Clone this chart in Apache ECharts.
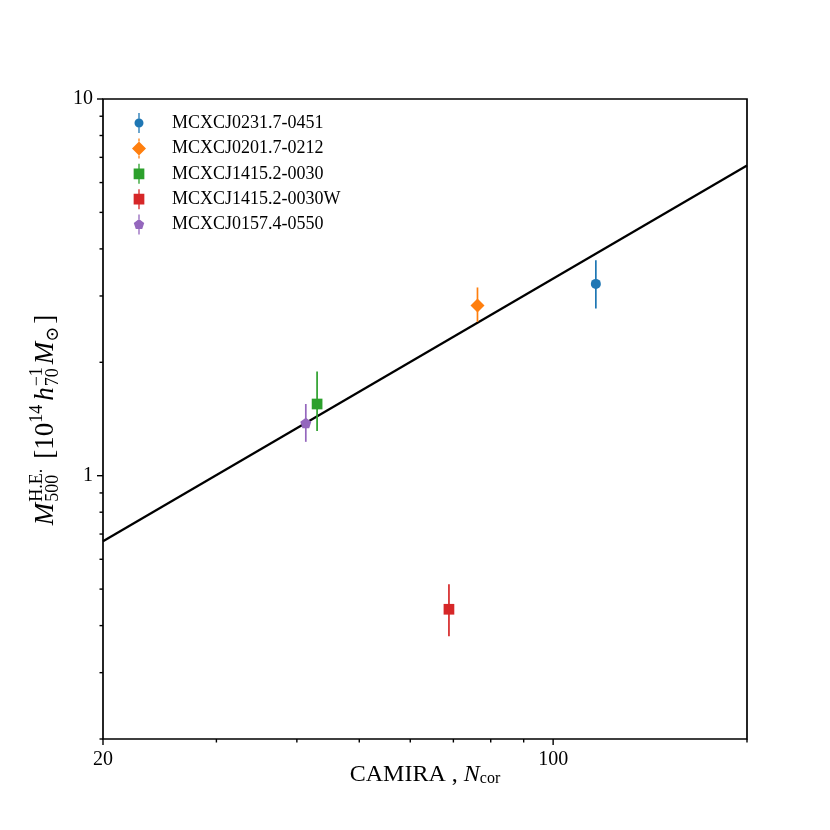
<!DOCTYPE html>
<html>
<head>
<meta charset="utf-8">
<script src="https://cdn.jsdelivr.net/npm/echarts@6/dist/echarts.min.js"></script>
<style>
  html, body { margin: 0; padding: 0; background: #fff; }
  #chart { width: 830px; height: 830px; }
</style>
</head>
<body>
<div id="chart"></div>
<script>
(function () {

    // clusters
    var sources = ['MCXCJ0231.7-0451', 'MCXCJ0201.7-0212', 'MCXCJ1415.2-0030', 'MCXCJ1415.2-0030W', 'MCXCJ0157.4-0550'];
    var nCor = [116.5, 76.3, 43.0, 68.9, 41.3];
    var mass = [3.23, 2.83, 1.55, 0.442, 1.38];
    var massLo = [2.78, 2.56, 1.315, 0.375, 1.23];
    var massHi = [3.73, 3.16, 1.89, 0.515, 1.55];

    // best-fit relation
    var fitN = [20, 200];
    var fitM = [0.67, 6.66];

    // ticks
    var xMajorTicks = [20, 100];
    var xMinorTicks = [30, 40, 50, 60, 70, 80, 90, 200];
    var yMajorTicks = [1, 10];
    var yMinorTicks = [0.2, 0.3, 0.4, 0.5, 0.6, 0.7, 0.8, 0.9, 2, 3, 4, 5, 6, 7, 8, 9];

    var X_MIN = 20, X_MAX = 200, Y_MIN = 0.2, Y_MAX = 10;

    var FONT = '"Liberation Serif", "DejaVu Serif", serif';
    var colors = ['#1f77b4', '#ff7f0e', '#2ca02c', '#d62728', '#9467bd'];
    var pentagon = 'path://M10,0L19.51,6.91L15.88,18.09L4.12,18.09L0.49,6.91Z';
    var symbols = ['circle', 'diamond', 'rect', 'rect', pentagon];
    var symbolSizes = [10, 14, 10.7, 10.7, 11];
    // legend icons: marker with its error bar through it
    var legendIcons = [
        'path://M4.35,0h1.3v5.5h-1.3zM4.35,14.5h1.3v5.5h-1.3zM0.5,10a4.5,4.5 0 1,0 9,0a4.5,4.5 0 1,0 -9,0z',
        'path://M6.35,0h1.3v3h-1.3zM6.35,17h1.3v3h-1.3zM0,10L7,3L14,10L7,17Z',
        'path://M4.7,0h1.3v4.65h-1.3zM4.7,15.35h1.3v4.65h-1.3zM0,4.65h10.7v10.7h-10.7z',
        'path://M4.7,0h1.3v4.65h-1.3zM4.7,15.35h1.3v4.65h-1.3zM0,4.65h10.7v10.7h-10.7z',
        'path://M4.65,0h1.3v4.5h-1.3zM4.65,14.45h1.3v5.55h-1.3zM5.3,4.5L10.53,8.3L8.53,14.45L2.07,14.45L0.07,8.3Z'
    ];

    var series = [];

    series.push({
        type: 'line',
        name: 'fit',
        data: fitN.map(function (n, i) { return [n, fitM[i]]; }),
        showSymbol: false,
        symbol: 'none',
        lineStyle: { color: '#000', width: 2.2 },
        z: 2,
        silent: true
    });

    sources.forEach(function (name, i) {
        series.push({
            type: 'custom',
            name: name,
            itemStyle: { color: colors[i] },
            data: [[nCor[i], massLo[i], massHi[i]]],
            renderItem: function (params, api) {
                var a = api.coord([api.value(0), api.value(1)]);
                var b = api.coord([api.value(0), api.value(2)]);
                return {
                    type: 'line',
                    shape: { x1: a[0], y1: a[1], x2: b[0], y2: b[1] },
                    style: { stroke: colors[i], lineWidth: 1.7 }
                };
            },
            z: 3
        });
        series.push({
            type: 'scatter',
            name: name,
            data: [[nCor[i], mass[i]]],
            symbol: symbols[i],
            symbolSize: symbolSizes[i],
            symbolKeepAspect: true,
            itemStyle: { color: colors[i], opacity: 1 },
            z: 4
        });
    });

    // hand-placed tick marks (matplotlib style, outward)
    function tickSeries(data, isX, len) {
        return {
            type: 'custom',
            name: 'ticks',
            silent: true,
            clip: false,
            data: data.map(function (v) { return isX ? [v, Y_MIN] : [X_MIN, v]; }),
            renderItem: function (params, api) {
                var p = api.coord([api.value(0), api.value(1)]);
                var shape = isX
                    ? { x1: p[0], y1: p[1], x2: p[0], y2: p[1] + len }
                    : { x1: p[0], y1: p[1], x2: p[0] - len, y2: p[1] };
                return { type: 'line', shape: shape, style: { stroke: '#000', lineWidth: 1.4 } };
            },
            z: 5
        };
    }
    series.push(tickSeries(xMajorTicks, true, 6));
    series.push(tickSeries(xMinorTicks, true, 3.5));
    series.push(tickSeries(yMajorTicks, false, 6));
    series.push(tickSeries(yMinorTicks, false, 3.5));

    // y-axis title built from pieces (stacked super/subscripts)
    var ctx = document.createElement('canvas').getContext('2d');
    function tw(t, f) { ctx.font = f; return ctx.measureText(t).width; }
    var big = 27, small = 18;
    var fBig = big + 'px ' + FONT, fBigI = 'italic ' + big + 'px ' + FONT, fSmall = small + 'px ' + FONT;
    var pieces = [];
    var cx = 0;
    function put(t, f, size, dy) { pieces.push({ t: t, f: f, size: size, x: cx, dy: dy }); return tw(t, f); }
    cx += put('M', fBigI, big, 0) + 1;
    cx += Math.max(put('H.E.', fSmall, small, -11), put('500', fSmall, small, 5)) + 10;
    cx += put('[10', fBig, big, 0);
    cx += put('14', fSmall, small, -11) + 4;
    cx += put('h', fBigI, big, 0) + 1;
    cx += Math.max(put('\u22121', fSmall, small, -11), put('70', fSmall, small, 5)) + 3;
    cx += put('M', fBigI, big, 0);
    cx += put('\u2299', fSmall, small, 5) + 3;
    cx += put(']', fBig, big, 0);
    var titleLen = cx;

    var yTitle = {
        type: 'group',
        x: 54,
        y: 420 + titleLen / 2,
        rotation: Math.PI / 2,
        children: pieces.map(function (p) {
            return {
                type: 'text',
                x: p.x,
                y: p.dy - 0.3 * p.size,
                style: {
                    text: p.t,
                    font: p.f,
                    fill: '#000',
                    align: 'left',
                    verticalAlign: 'middle'
                }
            };
        })
    };

    var myChart = echarts.init(document.getElementById('chart'));
    var option = {
        backgroundColor: '#fff',
        animation: false,
        grid: {
            left: 103,
            top: 99,
            width: 644,
            height: 640,
            show: true,
            borderColor: '#000',
            borderWidth: 1.7,
            backgroundColor: 'transparent',
            containLabel: false
        },
        legend: {
            orient: 'vertical',
            left: 127,
            top: 108,
            itemWidth: 56,
            itemHeight: 20,
            itemGap: 5.4,
            symbolKeepAspect: true,
            data: sources.map(function (s, i) { return { name: s, icon: legendIcons[i] }; }),
            textStyle: { color: '#000', fontFamily: FONT, fontSize: 18 },
            selectedMode: false
        },
        xAxis: {
            type: 'log',
            logBase: 10,
            min: X_MIN,
            max: X_MAX,
            axisLine: { show: false },
            axisTick: { show: false },
            splitLine: { show: false },
            axisLabel: {
                color: '#000',
                fontFamily: FONT,
                fontSize: 20,
                margin: 11,
                showMaxLabel: false
            },
            name: '{a|CAMIRA , }{n|N}{s|cor}',
            nameLocation: 'middle',
            nameGap: 24,
            nameMoveOverlap: false,
            nameTextStyle: {
                rich: {
                    a: { fontFamily: FONT, fontSize: 24, lineHeight: 24, verticalAlign: 'top', color: '#000' },
                    n: { fontFamily: FONT, fontStyle: 'italic', fontSize: 24, lineHeight: 24, verticalAlign: 'top', color: '#000' },
                    s: { fontFamily: FONT, fontSize: 16, lineHeight: 16, padding: [10, 0, 0, 0], verticalAlign: 'bottom', color: '#000' }
                }
            }
        },
        yAxis: {
            type: 'log',
            logBase: 10,
            min: Y_MIN,
            max: Y_MAX,
            axisLine: { show: false },
            axisTick: { show: false },
            splitLine: { show: false },
            axisLabel: {
                color: '#000',
                fontFamily: FONT,
                fontSize: 20,
                margin: 10,
                showMinLabel: false
            }
        },
        graphic: [yTitle],
        series: series
    };
    myChart.setOption(option);
})();
</script>
</body>
</html>
